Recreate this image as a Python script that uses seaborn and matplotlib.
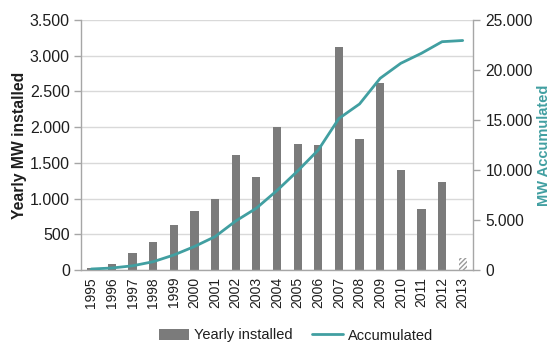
import numpy as np
import pandas as pd
import matplotlib
matplotlib.use("Agg")
import matplotlib.pyplot as plt
from matplotlib.ticker import FuncFormatter, MultipleLocator, FixedLocator
from matplotlib.patches import Patch
from matplotlib.lines import Line2D
import seaborn as sns

# Wind power installed per year and running total (MW)
years = ["1995", "1996", "1997", "1998", "1999", "2000", "2001", "2002", "2003", "2004",
         "2005", "2006", "2007", "2008", "2009", "2010", "2011", "2012", "2013"]
yearly_mw = [30, 90, 233, 392, 630, 821, 994, 1610, 1298, 2006,
             1760, 1750, 3126, 1834, 2622, 1400, 854, 1236, 175]
accumulated_mw = [100, 200, 420, 830, 1500, 2350, 3340, 4900, 6180, 7950,
                  9900, 12000, 15150, 16600, 19170, 20670, 21670, 22830, 22950]

df = pd.DataFrame({"year": years, "yearly": yearly_mw, "accumulated": accumulated_mw})
df["pos"] = np.arange(len(df))

sns.set_style("white")
plt.rcParams["font.family"] = ["Liberation Sans", "DejaVu Sans"]

BAR = "#7b7b7b"
TEAL = "#419fa1"
SPINE = "#a6a6a6"
GRID = "#d9d9d9"
TXT = "#1e1e1e"

fig = plt.figure(figsize=(5.52, 3.47), dpi=100)
ax = fig.add_axes([81 / 552, 1 - 270 / 347, 392 / 552, 250 / 347])

sns.barplot(data=df, x="year", y="yearly", color=BAR, width=0.4, saturation=1,
            ax=ax, zorder=2, linewidth=0)

# last year is provisional: hatched bar
last = ax.patches[-1]
last.set_facecolor("white")
last.set_edgecolor("#9a9a9a")
last.set_hatch("///////")
last.set_linewidth(0)

ax.set_xlim(-0.5, len(df) - 0.5)
ax.set_ylim(0, 3500)
ax.yaxis.set_major_locator(MultipleLocator(500))
thousands = FuncFormatter(lambda v, p: f"{int(round(v)):,}".replace(",", "."))
ax.yaxis.set_major_formatter(thousands)
ax.grid(axis="y", color=GRID, linewidth=1, zorder=0)
ax.set_axisbelow(True)

ax.set_xlabel("")
ax.set_ylabel("Yearly MW installed", fontsize=11.3, fontweight="bold", color=TXT, labelpad=2)
ax.tick_params(axis="x", which="major", length=0, labelsize=10, labelcolor=TXT, rotation=90, pad=5)
ax.xaxis.set_minor_locator(FixedLocator(np.arange(-0.5, len(df), 1.0)))
ax.tick_params(axis="x", which="minor", length=5, color=SPINE, width=1, direction="out")
ax.tick_params(axis="y", length=5, color=SPINE, width=1, direction="out",
               labelsize=11.5, labelcolor=TXT, pad=3)

for side in ["top", "right"]:
    ax.spines[side].set_visible(False)
for side in ["left", "bottom"]:
    ax.spines[side].set_color(SPINE)
    ax.spines[side].set_linewidth(1)

ax2 = ax.twinx()
sns.lineplot(data=df, x="pos", y="accumulated", color=TEAL, linewidth=2.0, ax=ax2, zorder=3)
ax2.set_ylim(0, 25000)
ax2.yaxis.set_major_locator(MultipleLocator(5000))
ax2.yaxis.set_major_formatter(thousands)
ax2.set_xlim(-0.5, len(df) - 0.5)
ax2.set_ylabel("MW Accumulated", fontsize=10.5, fontweight="bold", color=TEAL)
ax2.yaxis.set_label_coords(1.162, 0.5)
ax2.tick_params(axis="y", length=5, color=SPINE, width=1, direction="out",
                labelsize=11.2, labelcolor=TXT, pad=4)
for side in ["top", "left", "bottom"]:
    ax2.spines[side].set_visible(False)
ax2.spines["right"].set_color(SPINE)
ax2.spines["right"].set_linewidth(1)

handles = [Patch(facecolor=BAR, edgecolor="none", label="Yearly installed"),
           Line2D([0], [0], color=TEAL, linewidth=2.0, label="Accumulated")]
ax.legend(handles=handles, loc="center", bbox_to_anchor=(0.548, -0.262), ncol=2,
          frameon=False, fontsize=10.5, handlelength=2.1, handletextpad=0.35,
          columnspacing=1.3, labelcolor=TXT)

fig.savefig("out.png", dpi=100)
